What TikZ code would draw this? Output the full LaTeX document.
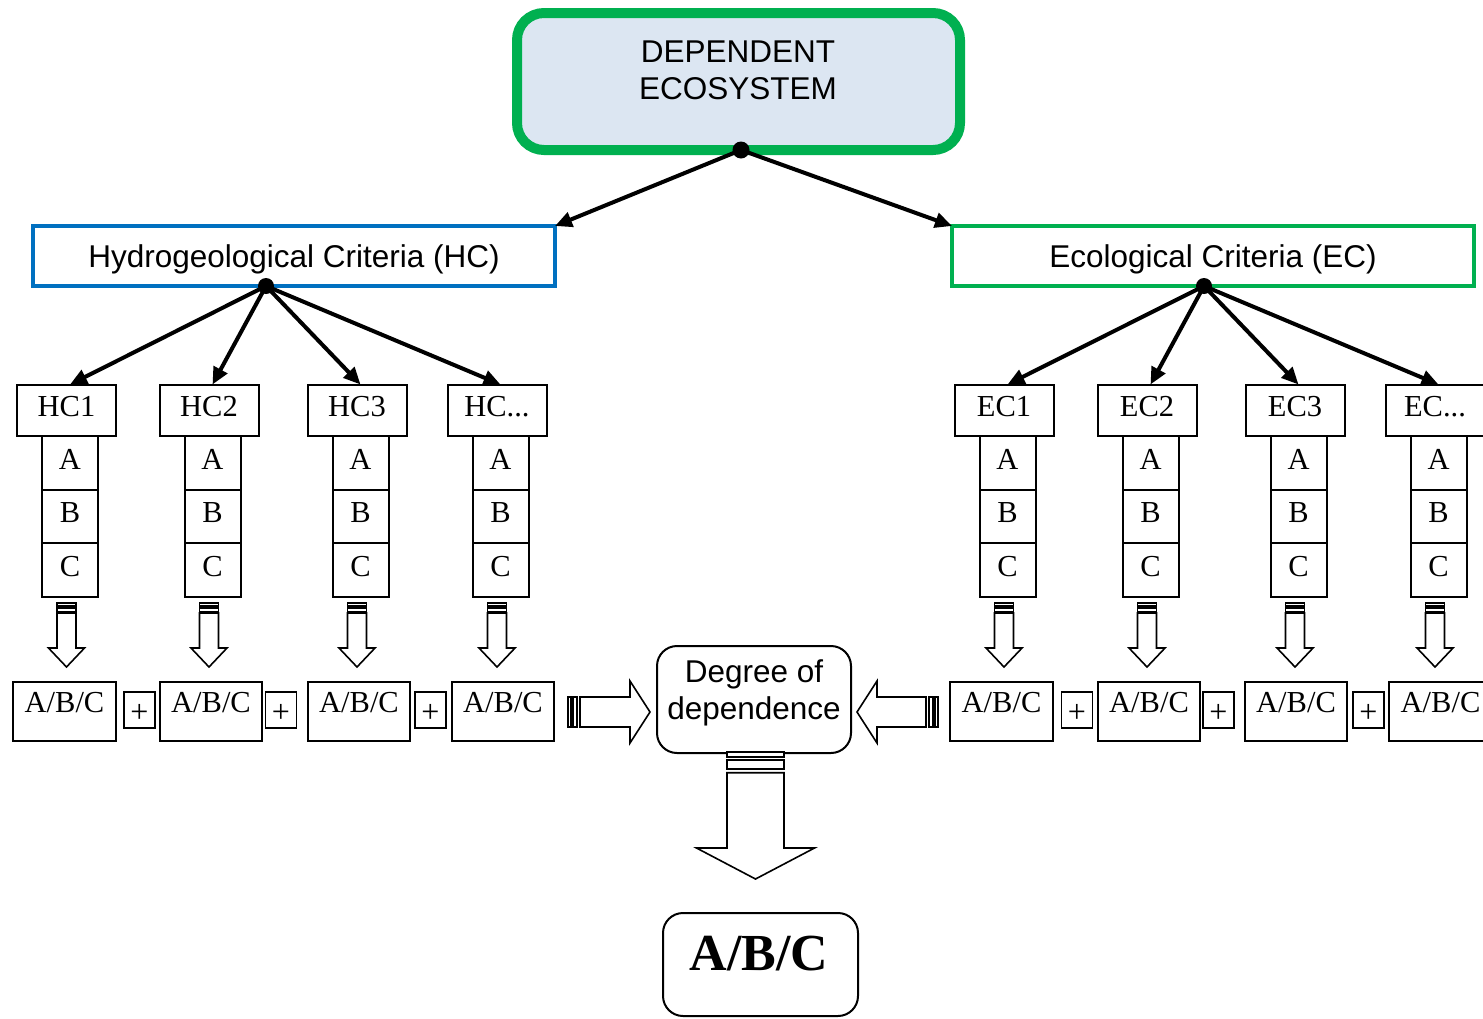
\documentclass[tikz,border=0pt]{standalone}
\usepackage{fontspec}
\setmainfont{Liberation Serif}
\newfontfamily\arialf{Liberation Sans}
\usetikzlibrary{arrows.meta}
\definecolor{ggreen}{HTML}{00B050}
\definecolor{bblue}{HTML}{0070C0}
\definecolor{lblue}{HTML}{DCE6F2}
\newcommand\mydots{...}
\begin{document}
\begin{tikzpicture}[x=1pt,y=-1pt,
  every node/.style={outer sep=0pt, inner sep=0pt},
  conn/.style={line width=4pt, -{Triangle[length=17pt,width=15pt]}},
  tfont/.style={font=\fontsize{30.5}{36}\selectfont},
  sfont/.style={font=\arialf\fontsize{31.5}{37}\selectfont},
  hdr/.style={draw, line width=2pt, minimum width=99pt, minimum height=51pt, tfont, text height=20.8pt, text depth=8.4pt},
  cell/.style={draw, line width=2pt, minimum width=56pt, minimum height=53.5pt, tfont, text height=20.8pt, text depth=8.4pt},
  res/.style={draw, line width=2pt, minimum width=102.5pt, minimum height=59pt, tfont, text height=20.8pt, text depth=18.4pt},
  plusbox/.style={draw, line width=1.6pt, minimum width=31pt, minimum height=36pt, font=\fontsize{32}{36}\selectfont, text height=25.4pt, text depth=0pt},
  blk/.style={draw, line width=1.6pt, fill=white, line join=miter},
  sdown/.pic={
    \draw[blk] (-9.5,0) rectangle (9.5,3);
    \draw[blk] (-9.5,5) rectangle (9.5,8.5);
    \draw[blk] (-9.5,10) -- (9.5,10) -- (9.5,45) -- (18,45) -- (0,64) -- (-18,45) -- (-9.5,45) -- cycle;
  },
  bigright/.pic={
    \draw[blk] (0,-15) rectangle (3,15);
    \draw[blk] (5,-15) rectangle (9,15);
    \draw[blk] (12,-15) -- (62,-15) -- (62,-31) -- (82,0) -- (62,31) -- (62,15) -- (12,15) -- cycle;
  },
  bigleft/.pic={
    \draw[blk] (0,-15) rectangle (-3,15);
    \draw[blk] (-5,-15) rectangle (-9,15);
    \draw[blk] (-12,-15) -- (-61,-15) -- (-61,-31) -- (-81,0) -- (-61,31) -- (-61,15) -- (-12,15) -- cycle;
  },
  bigdown/.pic={
    \draw[blk] (-28.5,0) rectangle (28.5,4.7);
    \draw[blk] (-28.5,8) rectangle (28.5,17);
    \draw[blk] (-28.5,20.7) -- (28.5,20.7) -- (28.5,96) -- (59,96) -- (0,127) -- (-59,96) -- (-28.5,96) -- cycle;
  }
]
\useasboundingbox (0,0) rectangle (1483,1018);

% top box
\node[draw=ggreen, line width=10pt, fill=lblue, rounded corners=27pt, minimum width=443pt, minimum height=137pt] (top) at (738.5,81.5) {};
\node[sfont, align=center] (toptxt) at (738,70) {DEPENDENT\\ECOSYSTEM};

% criteria boxes
\node[draw=bblue, line width=4pt, minimum width=522pt, minimum height=60pt, sfont, text height=22.6pt, text depth=0pt] (hc) at (294,256) {Hydrogeological Criteria (HC)};
\node[draw=ggreen, line width=4pt, minimum width=522pt, minimum height=60pt, sfont, text height=22.6pt, text depth=0pt] (ec) at (1213,256) {Ecological Criteria (EC)};

\coordinate (topd) at (741,150);
\coordinate (hcd) at (266,286);
\coordinate (ecd) at (1204,286);

\draw[conn] (topd) -- (hc.north east);
\draw[conn] (topd) -- (ec.north west);

% columns
\foreach \n/\ax/\lab/\src in {h1/70/HC1/hcd, h2/212.5/HC2/hcd, h3/360.5/HC3/hcd, h4/500.5/HC\mydots/hcd,
                              e1/1007.5/EC1/ecd, e2/1150.5/EC2/ecd, e3/1298.5/EC3/ecd, e4/1438.5/EC\mydots/ecd} {
  \node[hdr] (\n) at (\ax-3.5,410) {\lab};
  \node[cell] (\n-a) at (\ax,463) {A};
  \node[cell] (\n-b) at (\ax,516.5) {B};
  \node[cell] (\n-c) at (\ax,570) {C};
  \draw[conn] (\src) -- (\n-a |- \n.north);
  \pic at (\ax-3.5,603) {sdown};
}

\fill (topd) circle (8.5pt);
\fill (hcd) circle (8pt);
\fill (ecd) circle (8pt);

% result row
\foreach \n/\x in {r1/64.5, r2/211, r3/359, r4/503, r5/1001.5, r6/1149, r7/1296, r8/1440.5}
  \node[res] (\n) at (\x,711.5) {A/B/C};
\foreach \n/\x in {p1/139.5, p2/281, p3/430.5, p4/1077, p5/1218.5, p6/1368.5}
  \node[plusbox] (\n) at (\x,710) {+};

% degree of dependence
\node[draw, line width=2pt, rounded corners=20pt, minimum width=194pt, minimum height=107pt] (deg) at (754,699.5) {};
\node[sfont, align=center] (degtxt) at (754,693) {Degree of\\dependence};

\pic at (568,712) {bigright};
\pic at (938,712) {bigleft};
\pic at (755.5,752) {bigdown};

% final
\node[draw, line width=2pt, rounded corners=20pt, minimum width=195pt, minimum height=103pt] (fin) at (760.5,964.5) {};
\node[font=\fontsize{52}{60}\selectfont\bfseries, anchor=base] (fintxt) at (759,970) {A/B/C};
\end{tikzpicture}
\end{document}
